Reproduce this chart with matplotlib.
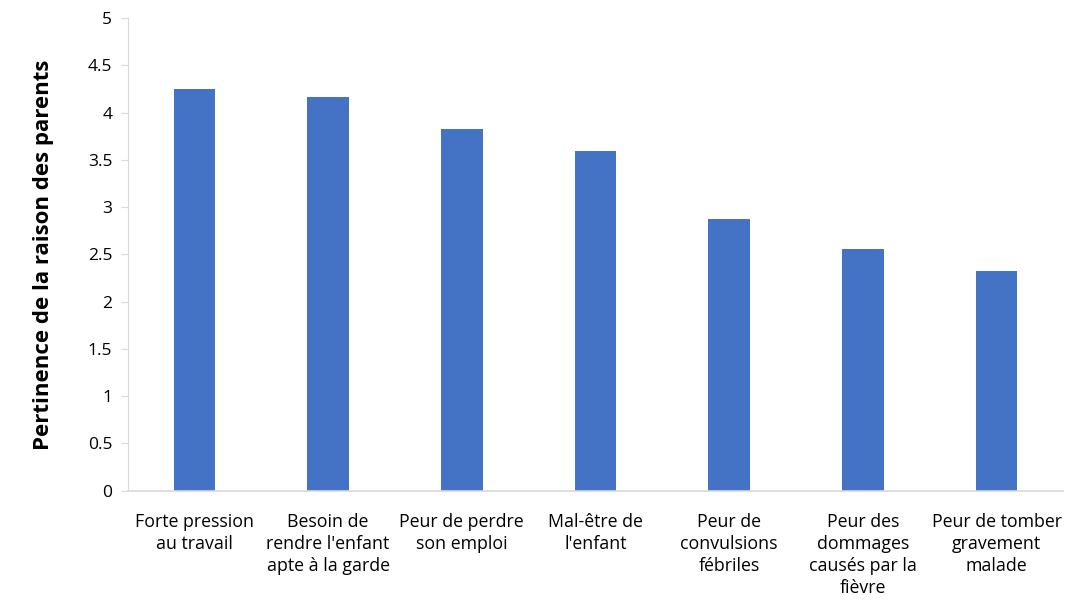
import matplotlib
matplotlib.use("Agg")
import matplotlib.pyplot as plt

plt.rcParams['font.family'] = ['Open Sans', 'DejaVu Sans']

# dane
categories = [
    "Forte pression\nau travail",
    "Besoin de\nrendre l'enfant\napte à la garde",
    "Peur de perdre\nson emploi",
    "Mal-être de\nl'enfant",
    "Peur de\nconvulsions\nfébriles",
    "Peur des\ndommages\ncausés par la\nfièvre",
    "Peur de tomber\ngravement\nmalade",
]
values = [4.25, 4.16, 3.83, 3.59, 2.87, 2.56, 2.32]
y_ticks = [0, 0.5, 1, 1.5, 2, 2.5, 3, 3.5, 4, 4.5, 5]
y_tick_labels = ["0", "0.5", "1", "1.5", "2", "2.5", "3", "3.5", "4", "4.5", "5"]

fig = plt.figure(figsize=(10.72, 6.02), dpi=100)
ax = fig.add_axes([0.119, 0.185, 0.873, 0.785])

x = range(len(categories))
ax.bar(x, values, width=0.31, color="#4472C4")

ax.set_xlim(-0.5, len(categories) - 0.5)
ax.set_ylim(0, 5)
ax.set_yticks(y_ticks)
ax.set_yticklabels(y_tick_labels, fontsize=12.5, color="#000000")
ax.set_xticks(list(x))
ax.set_xticklabels(categories, fontsize=12.8, linespacing=1.3)

ax.spines['top'].set_visible(False)
ax.spines['right'].set_visible(False)
ax.spines['left'].set_color("#d9d9d9")
ax.spines['bottom'].set_color("#d9d9d9")
ax.spines['bottom'].set_linewidth(1.2)
ax.tick_params(axis='y', length=5, color="#d9d9d9", pad=6)
ax.tick_params(axis='x', length=0, pad=16)

ax.set_ylabel("Pertinence de la raison des parents", fontsize=16,
              fontweight='bold', labelpad=24)

fig.savefig("out.png", dpi=100)
